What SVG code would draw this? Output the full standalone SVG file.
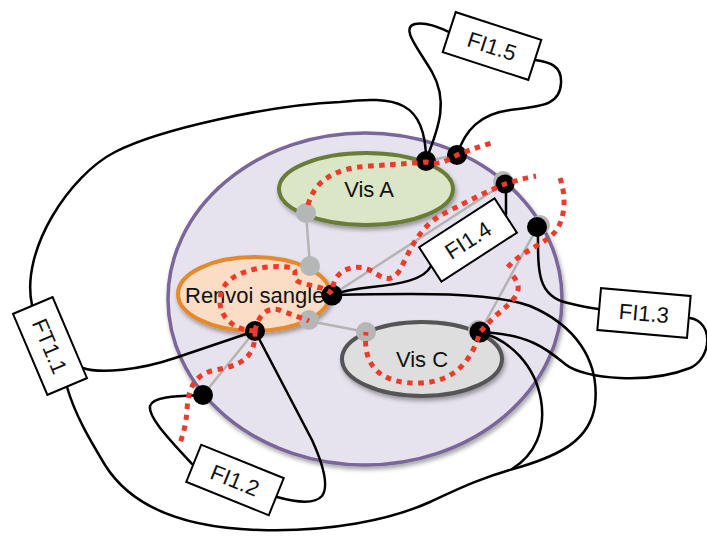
<svg xmlns="http://www.w3.org/2000/svg" width="707" height="536" viewBox="0 0 707 536">
<defs>
<filter id="sh" x="-10%" y="-10%" width="125%" height="130%">
<feDropShadow dx="1.5" dy="3" stdDeviation="2" flood-color="#000" flood-opacity="0.35"/>
</filter>
</defs>
<style>
.lbl{font-family:"Liberation Sans",Arial,Helvetica,sans-serif;font-size:22px;fill:#111;}
.box rect{fill:#fff;stroke:#000;stroke-width:2;}
.blk{fill:none;stroke:#000;stroke-width:2.5;stroke-linecap:round;stroke-linejoin:round;}
.gry{fill:none;stroke:#b4b4b4;stroke-width:2.5;}
.red{fill:none;stroke:#ee3a2a;stroke-width:5;stroke-dasharray:5.5 5.5;}
.gdot{fill:#b5b7b7;}
.bdot{fill:#000;}
</style>
<rect width="707" height="536" fill="#fff"/>

<g id="zone">
<ellipse cx="365" cy="299" rx="197" ry="166" fill="#e6e3ee" stroke="#7a6699" stroke-width="3.5" filter="url(#sh)"/>
</g>
<g id="visA">
<ellipse cx="366" cy="189" rx="87" ry="36" fill="#dbe6c6" stroke="#6a7d38" stroke-width="4" filter="url(#sh)"/>
<text class="lbl" x="369" y="197" text-anchor="middle">Vis A</text>
</g>
<g id="renvoi">
<ellipse cx="254" cy="294" rx="76" ry="37" fill="#fbdcc5" stroke="#e5892b" stroke-width="4" filter="url(#sh)"/>
<text class="lbl" x="185" y="303">Renvoi sanglé</text>
</g>
<g id="visC">
<ellipse cx="422" cy="359" rx="80" ry="37" fill="#dedede" stroke="#555" stroke-width="4" filter="url(#sh)"/>
<text class="lbl" x="422" y="367" text-anchor="middle">Vis C</text>
</g>

<g id="connectors">
<g id="gray-links">
<path class="gry" d="M306,213 L310,266"/>
<path class="gry" d="M309,321 L366,332"/>
<path class="gry" d="M332,295 L505,183"/>
<path class="gry" d="M538,226 L480,332"/>
<path class="gry" d="M255,331 L203,395"/>
<path class="gry" d="M426,161 L457,155"/>
</g>
<g id="gray-dots">
<circle class="gdot" cx="306" cy="213" r="10"/>
<circle class="gdot" cx="310" cy="266" r="10"/>
<circle class="gdot" cx="309" cy="320" r="10"/>
<circle class="gdot" cx="366" cy="332" r="10"/>
<circle class="gdot" cx="503" cy="181" r="10"/>
<circle class="gdot" cx="540" cy="225" r="10"/>
<circle class="gdot" cx="478" cy="330" r="10"/>
</g>
<g id="wires">
<path class="blk" d="M32,305 C20,250 70,175 115,152 C160,129 270,105 340,102 C395,96 426,100 426,160"/>
<path class="blk" d="M426,160 C440,125 448,100 432,72 C418,48 400,28 415,24 C428,22 440,28 449,32"/>
<path class="blk" d="M457,155 C465,130 480,114 510,110 C540,106 560,106 561,83 C562,66 550,62 535,60"/>
<path class="blk" d="M506,186 L506,215"/>
<path class="blk" d="M431,266 C424,280 400,284 372,287 C352,289 340,292 332,295"/>
<path class="blk" d="M332,295 C420,293 490,292 530,306 C575,325 600,360 595,405 C590,440 560,455 520,467 C480,478 460,488 430,502 C390,520 330,532 260,530 C180,528 130,505 105,465 C90,440 75,415 67,387"/>
<path class="blk" d="M83,368 C100,374 140,370 175,358 C210,346 235,338 255,331"/>
<path class="blk" d="M255,331 L312,440 C322,462 330,485 322,496 C314,505 295,502 277,497"/>
<path class="blk" d="M192,464 C172,442 148,418 150,406 C153,396 180,396 203,395"/>
<path class="blk" d="M538,226 C538,270 536,296 568,303 C580,306 590,308 598,309"/>
<path class="blk" d="M480,332 C530,334 548,350 565,364 C585,380 650,384 690,368 C712,358 714,322 690,318"/>
<path class="blk" d="M480,332 C510,340 535,365 541,400 C546,430 535,455 512,469"/>
</g>
<g id="junctions">
<circle class="bdot" cx="426" cy="161" r="10"/>
<circle class="bdot" cx="457" cy="155" r="10"/>
<circle class="bdot" cx="505" cy="184" r="9.5"/>
<circle class="bdot" cx="537" cy="227" r="10"/>
<circle class="bdot" cx="332" cy="295" r="10.5"/>
<circle class="bdot" cx="480" cy="332" r="10.5"/>
<circle class="bdot" cx="255" cy="331" r="10"/>
<circle class="bdot" cx="203" cy="395" r="10"/>
</g>
<g id="cut-lines">
<path class="red" d="M308,205 C315,180 335,168 370,166 C400,164 415,163 426,162 C440,166 448,160 457,155 C470,150 480,146 492,143"/>
<path class="red" d="M255,331 C225,330 212,305 225,285 C238,268 275,264 292,268 C300,272 288,279 302,283 C315,287 326,287 332,294"/>
<path class="red" d="M255,331 C258,315 268,305 282,311 C295,316 303,318 309,321"/>
<path class="red" d="M333,287 C335,270 355,262 372,271 C385,280 392,282 400,270 C410,250 420,225 445,213 C470,200 490,190 505,184 C515,181 525,178 536,176"/>
<path class="red" d="M560,178 C566,195 566,218 555,232 C545,244 520,252 507,268"/>
<path class="red" d="M513,276 C525,290 515,300 495,316 L480,332 C472,360 455,382 420,383 C385,384 362,370 366,332"/>
<path class="red" d="M255,331 C256,358 240,366 215,370 C192,375 188,392 187,410 C186,425 183,435 179,446"/>
</g>
</g>

<g id="FI1.5" class="box" transform="translate(492,46) rotate(18)">
<rect x="-45" y="-21" width="90" height="42"/>
<text class="lbl" x="0" y="8" text-anchor="middle">FI1.5</text>
</g>
<g id="FI1.4" class="box" transform="translate(468,240) rotate(-33)">
<rect x="-45" y="-20.5" width="90" height="41"/>
<text class="lbl" x="0" y="8" text-anchor="middle">FI1.4</text>
</g>
<g id="FI1.3" class="box" transform="translate(644,313) rotate(5)">
<rect x="-45" y="-21" width="90" height="42"/>
<text class="lbl" x="0" y="8" text-anchor="middle">FI1.3</text>
</g>
<g id="FT1.1" class="box" transform="translate(50,346) rotate(67)">
<rect x="-44" y="-21.5" width="88" height="43"/>
<text class="lbl" x="0" y="8" text-anchor="middle">FT1.1</text>
</g>
<g id="FI1.2" class="box" transform="translate(235,480) rotate(22)">
<rect x="-44.5" y="-20" width="89" height="40"/>
<text class="lbl" x="0" y="8" text-anchor="middle">FI1.2</text>
</g>
</svg>
